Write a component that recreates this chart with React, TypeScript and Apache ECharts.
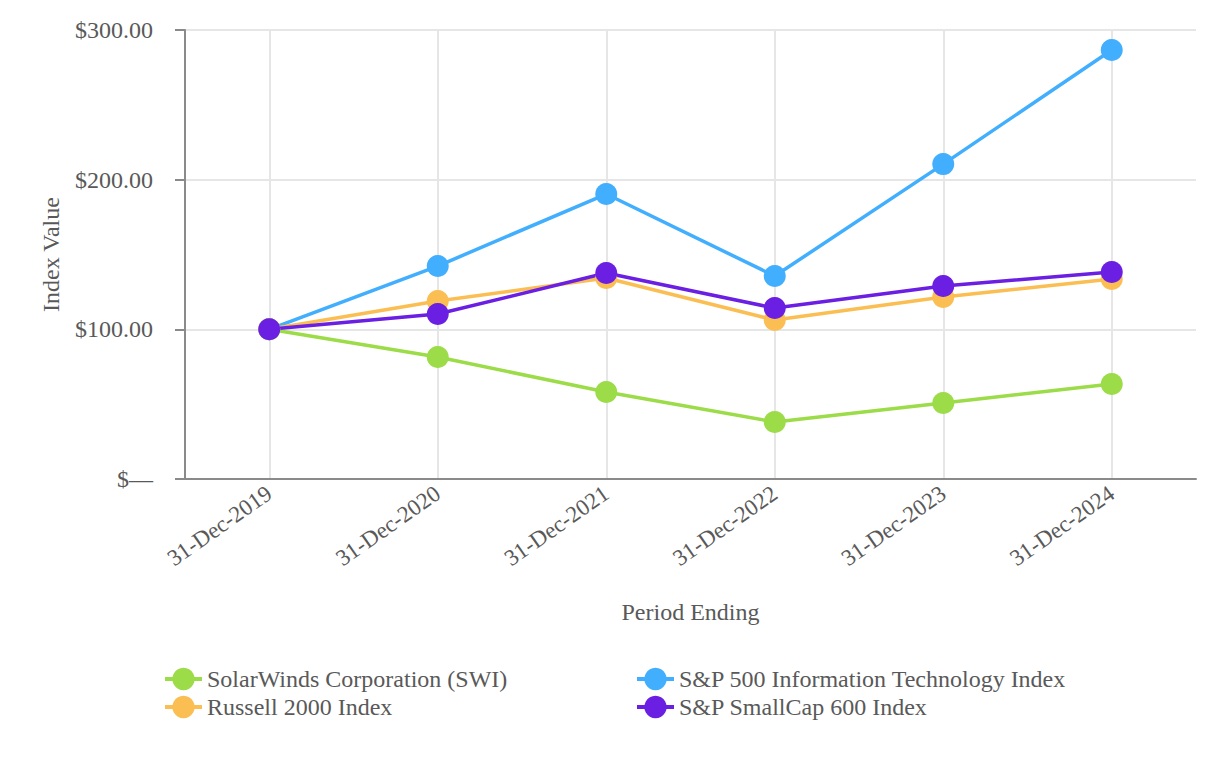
import React, { useEffect, useRef } from "react";
import * as echarts from "echarts";

const categories = ["31-Dec-2019", "31-Dec-2020", "31-Dec-2021", "31-Dec-2022", "31-Dec-2023", "31-Dec-2024"];
const swi = [100, 81.5, 58.1, 38.1, 50.8, 63.5];
const spIT = [100, 142.3, 190.4, 135.6, 210.4, 286.6];
const russell = [100, 118.9, 134.3, 106.2, 121.6, 133.6];
const smallCap = [100, 110.2, 137.6, 114.2, 128.9, 138.3];
const seriesNames = [
  "SolarWinds Corporation (SWI)",
  "S&P 500 Information Technology Index",
  "Russell 2000 Index",
  "S&P SmallCap 600 Index",
];
const colors = ["#9BDC48", "#42AEFE", "#FBBE52", "#6A1FE2"];

const FONT = "'Liberation Serif', 'Times New Roman', serif";
const TEXT = "#595959";

export default function App() {
  const ref = useRef<HTMLDivElement>(null);
  useEffect(() => {
    if (!ref.current) return;
    const chart = echarts.init(ref.current, undefined, { renderer: "svg" });
    const values = [swi, spIT, russell, smallCap];
    const legendText = { fontFamily: FONT, fontSize: 24, color: TEXT };
    const legendBase = {
      orient: "vertical",
      top: 662,
      itemGap: 4,
      itemWidth: 37,
      itemHeight: 28,
      textStyle: legendText,
      lineStyle: { width: 4 },
    };
    chart.setOption({
      animation: false,
      textStyle: { fontFamily: FONT },
      grid: { left: 185, right: 30, top: 30, bottom: 281, containLabel: false },
      legend: [
        { ...legendBase, data: [seriesNames[0], seriesNames[2]], left: 158 },
        { ...legendBase, data: [seriesNames[1], seriesNames[3]], left: 630 },
      ],
      xAxis: {
        type: "category",
        data: categories,
        boundaryGap: true,
        name: "Period Ending",
        nameLocation: "middle",
        nameGap: 121,
        nameTextStyle: { fontFamily: FONT, fontSize: 24, color: TEXT },
        axisLine: { lineStyle: { color: "#8a8a8a", width: 2 } },
        axisTick: { alignWithLabel: true, length: 10, lineStyle: { color: "#8a8a8a", width: 2 } },
        axisLabel: { rotate: 35, fontFamily: FONT, fontSize: 23, color: TEXT, margin: 12 },
        splitLine: { show: true, alignWithLabel: true, lineStyle: { color: "#e6e6e6", width: 2 } },
      },
      yAxis: {
        type: "value",
        min: 0,
        max: 300,
        interval: 100,
        name: "Index Value",
        nameLocation: "middle",
        nameGap: 122,
        nameTextStyle: { fontFamily: FONT, fontSize: 24, color: TEXT },
        axisLine: { show: true, lineStyle: { color: "#8a8a8a", width: 2 } },
        axisTick: { show: true, length: 10, lineStyle: { color: "#8a8a8a", width: 2 } },
        axisLabel: {
          fontFamily: FONT,
          fontSize: 24,
          color: TEXT,
          margin: 32,
          formatter: (v: number) => (v === 0 ? "$\u2014" : "$" + v.toFixed(2)),
        },
        splitLine: { show: true, lineStyle: { color: "#e6e6e6", width: 2 } },
      },
      series: seriesNames.map((name, i) => ({
        name,
        type: "line",
        data: values[i],
        symbol: "circle",
        symbolSize: 22,
        color: colors[i],
        lineStyle: { width: 3.5, color: colors[i] },
        itemStyle: { color: colors[i] },
      })),
    });
    return () => chart.dispose();
  }, []);
  return <div ref={ref} style={{ width: 1226, height: 760, position: "absolute", left: 0, top: 0 }} />;
}
